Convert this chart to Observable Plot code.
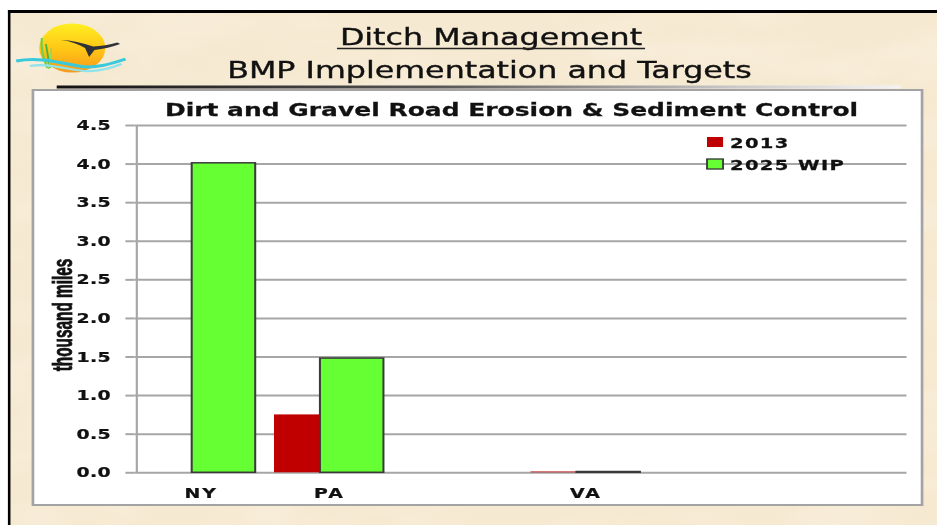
<!DOCTYPE html>
<html><head><meta charset="utf-8">
<script src="https://cdn.jsdelivr.net/npm/d3@7"></script>
<script src="https://cdn.jsdelivr.net/npm/@observablehq/plot@0.6"></script>
<style>
html,body{margin:0;padding:0;background:#fff;width:937px;height:525px;overflow:hidden}
#page{position:absolute;left:0;top:0;width:694px;height:525px;transform:scaleX(1.35);transform-origin:0 0}
#page > svg{position:absolute;left:0;top:0;overflow:visible}
#chart{position:absolute;left:24.4px;top:90px}
#chart svg{overflow:visible}
</style></head><body>
<div id="page">
<svg id="deco" width="694" height="525">
  <defs>
    <filter id="tex" x="0" y="0" width="100%" height="100%">
      <feTurbulence type="fractalNoise" baseFrequency="0.012 0.025" numOctaves="3" seed="7"/>
      <feColorMatrix values="0 0 0 0 1  0 0 0 0 1  0 0 0 0 1  0 0 0 1.0 -0.4"/>
    </filter>
    <linearGradient id="sun" x1="0" y1="0" x2="0" y2="1">
      <stop offset="0" stop-color="#FFEE22"/>
      <stop offset="0.55" stop-color="#FFC415"/>
      <stop offset="1" stop-color="#F59A1E"/>
    </linearGradient>
    <linearGradient id="rule" x1="0" y1="0" x2="1" y2="0">
      <stop offset="0" stop-color="#111"/>
      <stop offset="0.45" stop-color="#555"/>
      <stop offset="0.8" stop-color="#c8c8c8"/>
      <stop offset="1" stop-color="#f4f4f4"/>
    </linearGradient>
  </defs>
  <rect x="5.9" y="10" width="700" height="520" fill="#F6E9D1"/>
  <rect x="5.9" y="10" width="700" height="520" filter="url(#tex)" opacity="0.45"/>
  <line x1="5.9" y1="11.5" x2="700" y2="11.5" stroke="#000" stroke-width="3"/>
  <line x1="6.8" y1="10" x2="6.8" y2="525" stroke="#000" stroke-width="1.9"/>
  <!-- logo -->
  <g>
    <circle cx="53.5" cy="48" r="24.5" fill="url(#sun)"/>
    <path d="M31,38 C30,48 32,58 35,68" stroke="#6FCF4A" stroke-width="1.6" fill="none"/>
    <path d="M34,44 C35,52 36,60 37,68" stroke="#4DB33A" stroke-width="1.4" fill="none"/>
    <path d="M38,48 C38,55 37,62 36,69" stroke="#8EDC5A" stroke-width="1.2" fill="none"/>
    <path d="M45,40 C52,41 58,44 63,48 L66,57 L70,50 C77,49 83,47 89,44 L87,42.5 C81,45 75,46 69,46.5 C61,43 53,40 45,40 Z" fill="#2F3338"/>
    <path d="M12,61 C28,57 42,62 58,66 C70,69 82,64 93,59" stroke="#38C9DD" stroke-width="3" fill="none"/>
    <path d="M22,66 C36,63 48,69 62,71 C74,72 84,67 90,64" stroke="#8FE3EC" stroke-width="2.2" fill="none"/>
  </g>
  <text x="363.7" y="45" text-anchor="middle" font-family="DejaVu Sans" font-size="23.5" fill="#111" stroke="#111" stroke-width="0.35">Ditch Management</text>
  <line x1="249.6" y1="48.5" x2="477.8" y2="48.5" stroke="#222" stroke-width="1.4"/>
  <text x="362.6" y="78" text-anchor="middle" font-family="DejaVu Sans" font-size="23.5" fill="#111" stroke="#111" stroke-width="0.35">BMP Implementation and Targets</text>
  <rect x="42" y="85.5" width="625" height="3" fill="url(#rule)"/>
  <rect x="24.4" y="90" width="658.6" height="415" fill="#fff" stroke="#a3a3a3" stroke-width="2"/>
  <text x="378.9" y="116" text-anchor="middle" font-family="DejaVu Sans" font-weight="bold" font-size="18.5" fill="#111" stroke="#111" stroke-width="0.25">Dirt and Gravel Road Erosion &amp; Sediment Control</text>
</svg>
<div id="chart"></div>
<svg id="overlay" width="694" height="525"></svg>
</div>
<script>
// ---- data ----
const categories = ["NY", "PA", "cat3", "VA", "cat5", "cat6"];
const xLabels = ["NY", "PA", "", "VA", "", ""];
const series = ["2013", "2025 WIP"];
const values2013 = [0, 0.75, 0, 0.01, 0, 0];
const values2025 = [4.01, 1.48, 0, 0.01, 0, 0];
const yTicks = [0, 0.5, 1.0, 1.5, 2.0, 2.5, 3.0, 3.5, 4.0, 4.5];
const colors = ["#C00000", "#66FF33"];
const yLabel = "thousand miles";

// ---- layout ----
const W = 658.6, H = 415, mL = 75.6, mR = 11.1, mT = 35, mB = 32.7;
const bw = (W - mL - mR) / categories.length;
const grid = "#a6a6a6";

const rows2013 = categories.map((c, i) => ({state: c, series: series[0], value: values2013[i]})).filter(d => d.value > 0);
const rows2025 = categories.map((c, i) => ({state: c, series: series[1], value: values2025[i]})).filter(d => d.value > 0);

const chart = Plot.plot({
  width: W, height: H,
  marginLeft: mL, marginRight: mR, marginTop: mT, marginBottom: mB,
  style: {background: "transparent", overflow: "visible"},
  x: {type: "band", domain: categories, padding: 0, axis: null},
  y: {domain: [0, 4.5], axis: null},
  marks: [
    Plot.ruleY(yTicks, {stroke: grid, strokeWidth: 2}),
    Plot.ruleX([categories[0]], {dx: -bw / 2, y1: 0, y2: 4.5, stroke: grid, strokeWidth: 1.6}),
    Plot.barY(rows2013, {x: "state", y: "value", fill: colors[0], insetLeft: 0.073 * bw, insetRight: 0.5 * bw}),
    Plot.barY(rows2025, {x: "state", y: "value", fill: colors[1], stroke: "#3a3a3a", strokeWidth: 1.5, insetLeft: 0.43 * bw, insetRight: 0.073 * bw}),
    Plot.axisY({ticks: yTicks, tickFormat: d3.format(".1f"), tickSize: 6.7, tickPadding: 11.1,
      stroke: grid, strokeWidth: 2, fill: "#111", fontSize: 14, fontWeight: "bold", fontFamily: "DejaVu Sans", label: null}),
    Plot.axisX({tickSize: 0, tickPadding: 15.7, tickFormat: d => xLabels[categories.indexOf(d)],
      fill: "#111", fontSize: 14, fontWeight: "bold", fontFamily: "DejaVu Sans", label: null})
  ]
});
document.getElementById("chart").appendChild(chart);
d3.select(chart).selectAll('g[aria-label="x-axis tick label"] text').attr("letter-spacing", 1.5);
d3.select(chart).selectAll('g[aria-label="y-axis tick label"] text').attr("letter-spacing", 0.3);
d3.select(chart).selectAll('g[aria-label="y-axis tick label"], g[aria-label="x-axis tick label"]')
  .attr("stroke", "#111").attr("stroke-width", 0.25);

// ---- legend + y label overlay ----
const ov = d3.select("#overlay");
const leg = ov.append("g");
series.forEach((s, i) => {
  const g = leg.append("g").attr("transform", `translate(523.7,${137 + i * 22})`);
  g.append("rect").attr("width", 11.9).attr("height", 10).attr("fill", colors[i])
    .attr("stroke", i === 1 ? "#333" : "none").attr("stroke-width", 1.3);
  g.append("text").attr("x", 17).attr("y", 10.5).attr("font-family", "DejaVu Sans").attr("font-weight", "bold")
    .attr("font-size", 14.5).attr("letter-spacing", 1).attr("fill", "#111").attr("stroke", "#111").attr("stroke-width", 0.25).text(s);
});
ov.append("text").attr("transform", "translate(53.3,315) rotate(-90) scale(0.75,1)").attr("text-anchor", "middle")
  .attr("font-family", "Liberation Sans, Arial, sans-serif").attr("font-weight", "bold")
  .attr("font-size", 20.5).attr("fill", "#111").attr("stroke", "#111").attr("stroke-width", 0.6).text(yLabel);
</script>
</body></html>
